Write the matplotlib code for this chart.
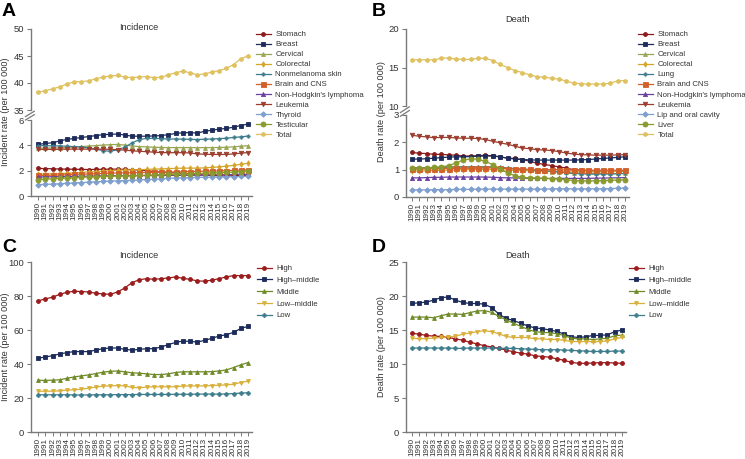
import numpy as np
import matplotlib
matplotlib.use("Agg")
import matplotlib.pyplot as plt

plt.rcParams['font.family'] = ['Liberation Sans', 'DejaVu Sans']

years = list(range(1990, 2020))

# ---------------- Panel A: incidence by cancer type ----------------
inc_stomach = [2.18, 2.16, 2.15, 2.13, 2.12, 2.11, 2.10, 2.09, 2.10, 2.11, 2.12, 2.12, 2.10, 2.08, 2.05,
               2.00, 1.93, 1.88, 1.85, 1.82, 1.80, 1.75, 1.68, 1.65, 1.62, 1.60, 1.58, 1.60, 1.62, 1.62]
inc_breast = [4.07, 4.15, 4.20, 4.35, 4.47, 4.54, 4.62, 4.69, 4.77, 4.84, 4.87, 4.89, 4.81, 4.72, 4.72,
              4.72, 4.74, 4.77, 4.84, 4.94, 4.99, 5.01, 4.96, 5.11, 5.19, 5.28, 5.33, 5.43, 5.56, 5.68]
inc_cervical = [3.78, 3.78, 3.79, 3.80, 3.83, 3.86, 3.90, 3.94, 3.98, 4.02, 4.05, 4.07, 4.02, 3.95, 3.90,
                3.88, 3.85, 3.83, 3.82, 3.82, 3.82, 3.82, 3.81, 3.82, 3.82, 3.83, 3.85, 3.88, 3.93, 3.97]
inc_colorectal = [1.72, 1.74, 1.76, 1.78, 1.80, 1.83, 1.86, 1.90, 1.93, 1.96, 2.00, 2.03, 2.05, 2.06, 2.08,
                  2.10, 2.12, 2.14, 2.16, 2.18, 2.20, 2.20, 2.20, 2.22, 2.26, 2.30, 2.35, 2.42, 2.50, 2.58]
inc_nonmel = [3.98, 3.97, 3.96, 3.95, 3.93, 3.90, 3.86, 3.80, 3.70, 3.58, 3.53, 3.65, 3.85, 4.20, 4.45,
              4.55, 4.55, 4.53, 4.50, 4.50, 4.49, 4.47, 4.46, 4.48, 4.50, 4.53, 4.56, 4.62, 4.67, 4.73]
inc_brain = [1.62, 1.63, 1.64, 1.66, 1.68, 1.70, 1.72, 1.74, 1.76, 1.78, 1.80, 1.82, 1.83, 1.84, 1.85,
             1.86, 1.87, 1.88, 1.89, 1.90, 1.92, 1.93, 1.94, 1.96, 1.97, 1.98, 2.00, 2.02, 2.04, 2.08]
inc_nhl = [1.50, 1.51, 1.52, 1.53, 1.54, 1.55, 1.56, 1.57, 1.58, 1.59, 1.60, 1.61, 1.61, 1.61, 1.61,
           1.61, 1.62, 1.62, 1.62, 1.63, 1.63, 1.64, 1.64, 1.65, 1.66, 1.67, 1.68, 1.69, 1.70, 1.72]
inc_leuk = [3.68, 3.68, 3.68, 3.69, 3.70, 3.70, 3.70, 3.70, 3.70, 3.70, 3.68, 3.66, 3.62, 3.57, 3.53,
            3.50, 3.46, 3.43, 3.42, 3.42, 3.42, 3.40, 3.32, 3.30, 3.28, 3.28, 3.28, 3.32, 3.38, 3.43]
inc_thyroid = [0.90, 0.92, 0.94, 0.97, 1.00, 1.03, 1.06, 1.09, 1.12, 1.15, 1.18, 1.20, 1.22, 1.24, 1.27,
               1.30, 1.33, 1.36, 1.39, 1.42, 1.44, 1.46, 1.47, 1.48, 1.49, 1.50, 1.51, 1.52, 1.54, 1.56]
inc_testic = [1.30, 1.33, 1.36, 1.39, 1.42, 1.45, 1.48, 1.50, 1.52, 1.54, 1.56, 1.58, 1.59, 1.60, 1.62,
              1.64, 1.66, 1.68, 1.70, 1.72, 1.74, 1.76, 1.78, 1.80, 1.82, 1.84, 1.86, 1.89, 1.93, 1.97]
inc_total = [38.3, 38.6, 38.9, 39.3, 39.8, 40.25, 40.25, 40.4, 40.8, 41.1, 41.3, 41.4, 41.1, 41.0, 41.1,
             41.2, 41.0, 41.05, 41.5, 41.9, 42.2, 41.9, 41.5, 41.7, 42.0, 42.3, 42.7, 43.4, 44.5, 45.0]

# ---------------- Panel B: death by cancer type ----------------
d_stomach = [1.63, 1.60, 1.59, 1.56, 1.56, 1.54, 1.53, 1.50, 1.50, 1.51, 1.53, 1.50, 1.47, 1.42, 1.41,
             1.37, 1.31, 1.24, 1.19, 1.15, 1.10, 1.06, 1.00, 0.98, 0.96, 0.94, 0.94, 0.94, 0.94, 0.94]
d_breast = [1.38, 1.39, 1.40, 1.42, 1.44, 1.46, 1.47, 1.47, 1.48, 1.49, 1.50, 1.50, 1.47, 1.42, 1.39,
            1.37, 1.36, 1.35, 1.35, 1.35, 1.35, 1.35, 1.35, 1.36, 1.37, 1.39, 1.41, 1.43, 1.45, 1.47]
d_cervical = [1.05, 1.05, 1.06, 1.07, 1.08, 1.09, 1.10, 1.10, 1.10, 1.10, 1.10, 1.09, 1.07, 1.05, 1.02,
              1.00, 0.98, 0.96, 0.94, 0.93, 0.92, 0.90, 0.88, 0.87, 0.86, 0.86, 0.86, 0.86, 0.86, 0.86]
d_colorectal = [0.95, 0.95, 0.96, 0.97, 0.98, 0.98, 0.99, 1.00, 1.00, 1.00, 1.00, 1.00, 0.99, 0.98, 0.97,
                0.96, 0.96, 0.95, 0.95, 0.94, 0.93, 0.92, 0.92, 0.92, 0.92, 0.92, 0.92, 0.93, 0.94, 0.95]
d_lung = [1.07, 1.07, 1.07, 1.08, 1.09, 1.10, 1.10, 1.10, 1.10, 1.10, 1.10, 1.10, 1.08, 1.06, 1.04,
          1.02, 1.00, 0.98, 0.96, 0.94, 0.92, 0.89, 0.86, 0.85, 0.84, 0.84, 0.84, 0.84, 0.85, 0.86]
d_brain = [1.02, 1.02, 1.03, 1.03, 1.04, 1.04, 1.05, 1.05, 1.05, 1.05, 1.06, 1.06, 1.05, 1.04, 1.03,
           1.02, 1.01, 1.00, 1.00, 1.00, 1.00, 0.99, 0.98, 0.98, 0.98, 0.98, 0.98, 0.98, 0.98, 0.98]
d_nhl = [0.70, 0.70, 0.71, 0.72, 0.72, 0.73, 0.73, 0.73, 0.73, 0.73, 0.73, 0.72, 0.71, 0.70, 0.70,
         0.69, 0.69, 0.68, 0.68, 0.68, 0.68, 0.68, 0.68, 0.68, 0.68, 0.69, 0.69, 0.70, 0.70, 0.71]
d_leuk = [2.26, 2.22, 2.20, 2.17, 2.18, 2.18, 2.16, 2.15, 2.15, 2.14, 2.10, 2.04, 1.98, 1.93, 1.86,
          1.79, 1.77, 1.73, 1.72, 1.70, 1.66, 1.61, 1.57, 1.55, 1.54, 1.53, 1.53, 1.53, 1.54, 1.55]
d_lip = [0.26, 0.26, 0.26, 0.27, 0.27, 0.27, 0.28, 0.28, 0.28, 0.29, 0.29, 0.29, 0.29, 0.29, 0.29,
         0.29, 0.29, 0.29, 0.29, 0.30, 0.30, 0.30, 0.30, 0.30, 0.30, 0.30, 0.30, 0.31, 0.32, 0.33]
d_liver = [1.05, 1.06, 1.07, 1.08, 1.10, 1.15, 1.25, 1.35, 1.40, 1.38, 1.30, 1.18, 1.02, 0.88, 0.78,
           0.72, 0.70, 0.69, 0.68, 0.67, 0.66, 0.64, 0.60, 0.59, 0.59, 0.59, 0.60, 0.61, 0.62, 0.63]
d_total = [16.0, 16.0, 16.0, 16.0, 16.2, 16.25, 16.1, 16.05, 16.05, 16.2, 16.2, 15.9, 15.4, 15.0, 14.6,
           14.35, 14.05, 13.8, 13.75, 13.6, 13.5, 13.25, 12.95, 12.9, 12.85, 12.85, 12.85, 12.97, 13.27, 13.3]

# ---------------- Panel C: incidence by SDI ----------------
c_high = [77.1, 78.3, 79.3, 81.0, 82.2, 82.8, 82.6, 82.4, 81.6, 81.2, 81.0, 82.4, 84.8, 87.9, 89.6,
          90.2, 89.8, 90.2, 90.6, 91.2, 90.4, 89.8, 88.9, 88.7, 89.3, 90.2, 91.2, 92.0, 92.0, 92.0]
c_highmid = [43.4, 44.1, 44.9, 45.9, 46.7, 47.3, 47.3, 47.3, 48.2, 49.0, 49.4, 49.4, 48.6, 48.2, 48.6,
             49.0, 49.0, 50.0, 51.4, 52.7, 53.5, 53.3, 52.9, 53.9, 55.1, 56.4, 57.2, 58.6, 60.9, 62.1]
c_mid = [30.5, 30.3, 30.5, 30.7, 31.6, 32.4, 33.0, 33.6, 34.4, 35.2, 35.7, 35.9, 35.4, 34.8, 34.6,
         34.2, 33.8, 33.8, 34.2, 35.0, 35.4, 35.4, 35.4, 35.4, 35.5, 35.9, 36.5, 37.9, 39.5, 40.8]
c_lowmid = [24.0, 24.0, 24.0, 24.2, 24.6, 24.8, 25.2, 25.8, 26.4, 27.0, 27.1, 27.3, 27.1, 26.2, 26.0,
            26.4, 26.6, 26.6, 26.6, 26.6, 27.0, 27.1, 27.1, 27.1, 27.3, 27.5, 27.7, 28.1, 29.1, 29.9]
c_low = [21.9, 21.9, 21.9, 21.9, 21.9, 21.8, 21.8, 21.8, 21.9, 21.9, 21.9, 22.0, 22.0, 22.0, 22.1,
         22.1, 22.1, 22.1, 22.1, 22.2, 22.2, 22.2, 22.3, 22.3, 22.3, 22.3, 22.4, 22.6, 22.9, 23.1]

# ---------------- Panel D: death by SDI ----------------
dd_high = [14.5, 14.4, 14.2, 14.1, 14.05, 13.9, 13.7, 13.5, 13.2, 12.95, 12.7, 12.5, 12.3, 12.05, 11.8,
           11.6, 11.45, 11.2, 11.1, 11.0, 10.75, 10.55, 10.25, 10.1, 10.1, 10.15, 10.2, 10.2, 10.15, 10.1]
dd_highmid = [18.9, 19.0, 19.1, 19.4, 19.75, 19.85, 19.4, 19.05, 18.9, 18.9, 18.8, 18.3, 17.35, 16.7, 16.4,
              16.0, 15.6, 15.3, 15.2, 15.0, 14.8, 14.4, 14.0, 13.9, 14.0, 14.2, 14.2, 14.3, 14.75, 15.0]
dd_mid = [16.9, 16.9, 16.9, 16.8, 17.1, 17.35, 17.35, 17.3, 17.55, 17.8, 17.85, 17.6, 17.0, 16.5, 16.0,
          15.55, 15.1, 14.75, 14.65, 14.6, 14.45, 14.2, 13.8, 13.7, 13.7, 13.6, 13.7, 13.8, 14.15, 14.25]
dd_lowmid = [13.8, 13.7, 13.75, 13.8, 13.9, 14.0, 14.05, 14.4, 14.55, 14.75, 14.9, 14.75, 14.45, 14.05, 13.9,
             13.9, 13.9, 13.7, 13.7, 13.6, 13.6, 13.5, 13.3, 13.3, 13.3, 13.3, 13.3, 13.4, 13.7, 13.9]
dd_low = [12.35, 12.35, 12.35, 12.35, 12.35, 12.35, 12.3, 12.3, 12.35, 12.35, 12.35, 12.35, 12.3, 12.3, 12.3,
          12.25, 12.2, 12.15, 12.1, 12.1, 12.1, 12.05, 12.0, 11.95, 11.9, 11.85, 11.85, 11.85, 11.9, 11.9]

# ---------------- styles ----------------
C_STOM = '#8b1a1a'; C_BREAST = '#1c2b5a'; C_CERV = '#98a553'; C_CRC = '#d4a52a'
C_TEAL = '#3d7c8c'; C_BRAIN = '#d2602a'; C_NHL = '#6b3fa0'; C_LEUK = '#9c3d2e'
C_LBLUE = '#7f9fcf'; C_OLIVE = '#8a9a2e'; C_TOTAL = '#dfc15f'

A_series = [
    ("Stomach", inc_stomach, C_STOM, 'o', 2.8),
    ("Breast", inc_breast, C_BREAST, 's', 2.8),
    ("Cervical", inc_cervical, C_CERV, '^', 2.8),
    ("Colorectal", inc_colorectal, C_CRC, 'd', 2.8),
    ("Nonmelanoma skin", inc_nonmel, C_TEAL, 'P', 2.4),
    ("Brain and CNS", inc_brain, C_BRAIN, 's', 3.6),
    ("Non-Hodgkin's lymphoma", inc_nhl, C_NHL, '^', 3.0),
    ("Leukemia", inc_leuk, C_LEUK, 'v', 3.2),
    ("Thyroid", inc_thyroid, C_LBLUE, 'D', 2.8),
    ("Testicular", inc_testic, C_OLIVE, 'o', 3.6),
    ("Total", inc_total, C_TOTAL, 'h', 3.0),
]
B_series = [
    ("Stomach", d_stomach, C_STOM, 'o', 2.8),
    ("Breast", d_breast, C_BREAST, 's', 2.8),
    ("Cervical", d_cervical, C_CERV, '^', 2.8),
    ("Colorectal", d_colorectal, C_CRC, 'd', 2.8),
    ("Lung", d_lung, C_TEAL, 'P', 2.4),
    ("Brain and CNS", d_brain, C_BRAIN, 's', 3.6),
    ("Non-Hodgkin's lymphoma", d_nhl, C_NHL, '^', 3.0),
    ("Leukemia", d_leuk, C_LEUK, 'v', 3.2),
    ("Lip and oral cavity", d_lip, C_LBLUE, 'D', 2.8),
    ("Liver", d_liver, C_OLIVE, 'o', 3.6),
    ("Total", d_total, C_TOTAL, 'h', 3.0),
]
sdi_names = ["High", "High\u2013middle", "Middle", "Low\u2013middle", "Low"]
sdi_colors = ['#9b1c1c', '#1c2b5a', '#6f8a26', '#d9b03a', '#3d7c8c']
sdi_markers = ['o', 's', '^', 'v', 'P']
C_series = list(zip(sdi_names, [c_high, c_highmid, c_mid, c_lowmid, c_low], sdi_colors, sdi_markers, [2.8]*5))
D_series = list(zip(sdi_names, [dd_high, dd_highmid, dd_mid, dd_lowmid, dd_low], sdi_colors, sdi_markers, [2.8]*5))

SPINE = '#7a7a7a'
TXT = '#333333'
W, H = 745, 459
fig = plt.figure(figsize=(W / 100, H / 100), dpi=100)


def fr(x0, y_top, x1, y_bot):
    return [x0 / W, 1 - y_bot / H, (x1 - x0) / W, (y_bot - y_top) / H]


def style_axis(ax, show_x):
    for s in ['top', 'right']:
        ax.spines[s].set_visible(False)
    ax.spines['left'].set_color(SPINE)
    ax.spines['left'].set_linewidth(1.0)
    ax.tick_params(axis='y', colors=SPINE, labelcolor=TXT, labelsize=6.8, length=3, width=0.8, pad=2)
    if show_x:
        ax.spines['bottom'].set_color(SPINE)
        ax.spines['bottom'].set_linewidth(1.0)
        ax.set_xticks(years)
        ax.set_xticklabels([str(y) for y in years], rotation=90)
        ax.tick_params(axis='x', colors=SPINE, labelcolor=TXT, labelsize=5.9, length=3, width=0.7, pad=1)
    else:
        ax.spines['bottom'].set_visible(False)
        ax.set_xticks([])


def draw(ax, series):
    handles = []
    for name, vals, col, mk, ms in series:
        h, = ax.plot(years, vals, color=col, lw=0.9, marker=mk, ms=ms, mec=col, mfc=col,
                     mew=0.6, label=name, clip_on=False)
        handles.append(h)
    return handles


def breakmark(ax, y0):
    for dy in (0.0, 0.045):
        ax.plot([-0.025, 0.015], [y0 + dy, y0 + 0.07 + dy], transform=ax.transAxes,
                color=SPINE, lw=0.9, clip_on=False)


def legend(handles, x, y, spacing):
    fig.legend(handles=handles, loc='upper left', bbox_to_anchor=(x / W, 1 - y / H),
               frameon=False, fontsize=5.6, handlelength=1.9, handletextpad=0.6,
               labelspacing=spacing, borderpad=0, borderaxespad=0, labelcolor=TXT)


def ylab(x, y, s):
    fig.text(x / W, 1 - y / H, s, rotation=90, ha='center', va='center', fontsize=6.6, color=TXT)


def title(x, y, s):
    fig.text(x / W, 1 - y / H, s, ha='center', va='center', fontsize=6.6, color=TXT)


# ---------- Panel A ----------
axA_t = fig.add_axes(fr(31, 29, 251.6, 110))
axA_b = fig.add_axes(fr(31, 120, 251.6, 196))
draw(axA_t, A_series[-1:])
hA = draw(axA_b, A_series[:-1])
hA.append(axA_t.lines[0])
for ax in (axA_t, axA_b):
    ax.set_xlim(1989.03, 2019.5)
axA_t.set_ylim(35, 50); axA_t.set_yticks([35, 40, 45, 50])
axA_b.set_ylim(0, 6); axA_b.set_yticks([0, 2, 4, 6])
style_axis(axA_t, False); style_axis(axA_b, True)
breakmark(axA_b, 1.0)
ylab(6, 112, "Incident rate (per 100 000)")
title(139, 28, "Incidence")
legend(hA, 256, 31, 0.33)

# ---------- Panel B ----------
axB_t = fig.add_axes(fr(406, 29, 628.7, 106))
axB_b = fig.add_axes(fr(406, 115, 628.7, 197))
draw(axB_t, B_series[-1:])
hB = draw(axB_b, B_series[:-1])
hB.append(axB_t.lines[0])
for ax in (axB_t, axB_b):
    ax.set_xlim(1989.18, 2019.5)
axB_t.set_ylim(10, 20); axB_t.set_yticks([10, 15, 20])
axB_b.set_ylim(0, 3); axB_b.set_yticks([0, 1, 2, 3])
style_axis(axB_t, False); style_axis(axB_b, True)
breakmark(axB_b, 0.985)
ylab(381, 112, "Death rate (per 100 000)")
title(518, 19, "Death")
legend(hB, 638, 31, 0.33)

# ---------- Panel C ----------
axC = fig.add_axes(fr(31, 262, 251.6, 432))
hC = draw(axC, C_series)
axC.set_xlim(1989.03, 2019.5)
axC.set_ylim(0, 100); axC.set_yticks([0, 20, 40, 60, 80, 100])
style_axis(axC, True)
ylab(6, 347, "Incident rate (per 100 000)")
title(139, 256, "Incidence")
legend(hC, 257, 265, 0.55)

# ---------- Panel D ----------
axD = fig.add_axes(fr(406, 262, 625.6, 432))
hD = draw(axD, D_series)
axD.set_xlim(1989.18, 2019.5)
axD.set_ylim(0, 25); axD.set_yticks([0, 5, 10, 15, 20, 25])
style_axis(axD, True)
ylab(381, 347, "Death rate (per 100 000)")
title(518, 256, "Death")
legend(hD, 629, 265, 0.55)

# panel letters
for lab, x, y in [("A", 2, 12), ("B", 372, 12), ("C", 2, 247), ("D", 372, 247)]:
    fig.text(x / W, 1 - y / H, lab, fontsize=14, fontweight='bold', ha='left', va='center', color='black')

fig.savefig("out.png", dpi=100)
